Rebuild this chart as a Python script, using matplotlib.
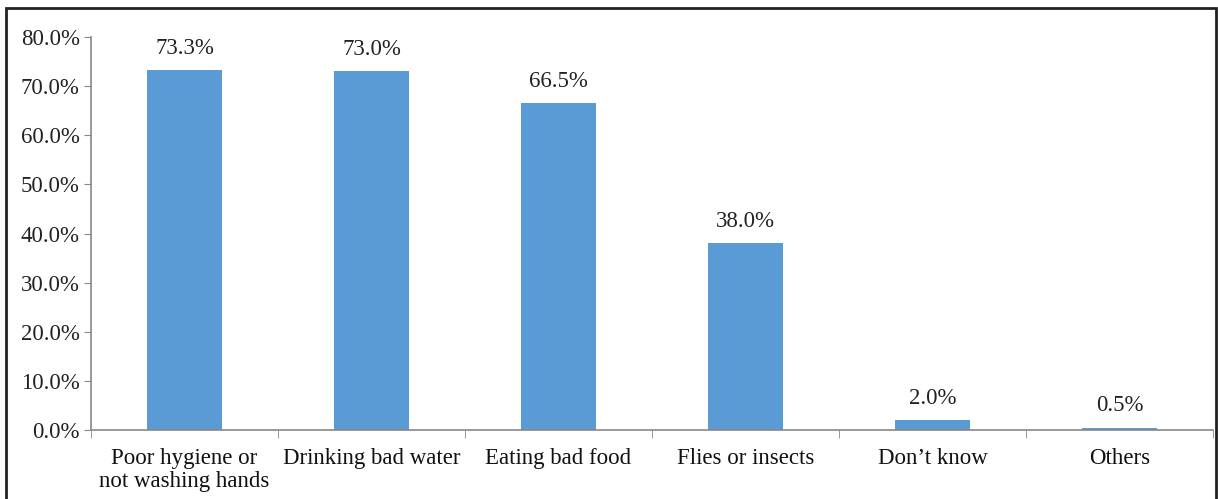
import numpy as np
import matplotlib.pyplot as plt
from matplotlib.patches import Rectangle
from matplotlib.ticker import FuncFormatter

categories = ["Poor hygiene or\nnot washing hands", "Drinking bad water", "Eating bad food",
              "Flies or insects", "Don\u2019t know", "Others"]
values = [73.3, 73.0, 66.5, 38.0, 2.0, 0.5]
yticks = np.arange(0, 81, 10)

plt.rcParams['font.family'] = ['Liberation Serif', 'DejaVu Serif']

fig = plt.figure(figsize=(12.18, 4.99), dpi=100)
ax = fig.add_axes([0.0747, 0.138, 0.9213, 0.788])

x = np.arange(len(categories))
ax.bar(x, values, width=0.4, color="#5B9BD5", zorder=2)
for xi, v in zip(x, values):
    ax.text(xi, v + 2.3, f"{v:.1f}%", ha="center", va="bottom", fontsize=16.5, color="#222222")

ax.set_xlim(-0.5, len(categories) - 0.5)
ax.set_ylim(0, 80)
ax.set_yticks(yticks)
ax.yaxis.set_major_formatter(FuncFormatter(lambda v, p: f"{v:.1f}%"))
ax.set_xticks(x)
ax.set_xticklabels(categories, fontsize=16.5, linespacing=1.1, color="#111111")
ax.set_xticks(np.arange(-0.5, len(categories)), minor=True)
ax.tick_params(axis="x", which="major", length=0, pad=13)
ax.tick_params(axis="x", which="minor", length=6, color="#888888", direction="out")
ax.tick_params(axis="y", length=5, color="#888888", labelsize=16.5, pad=3, labelcolor="#222222")

for s in ["top", "right"]:
    ax.spines[s].set_visible(False)
for s in ["left", "bottom"]:
    ax.spines[s].set_color("#888888")
    ax.spines[s].set_linewidth(1.2)

fig.patches.append(Rectangle((6 / 1218, -0.01), 1210 / 1218, 1 - 8 / 499 + 0.01,
                             transform=fig.transFigure, fill=False, edgecolor="#222222",
                             linewidth=2))

fig.savefig("out.png", dpi=100)
